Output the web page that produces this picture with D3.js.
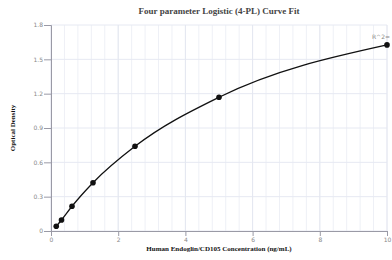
<!DOCTYPE html>
<html><head><meta charset="utf-8">
<script src="https://cdn.jsdelivr.net/npm/d3@7"></script>
<style>body{margin:0;background:#fff}svg{display:block}</style>
</head><body>
<svg id="c" width="392" height="260"></svg>
<script>
const concentrations = [0.156, 0.3125, 0.625, 1.25, 2.5, 5, 10];
const odValues = [0.041, 0.096, 0.216, 0.422, 0.74, 1.169, 1.626];
const xTicks = [0, 2, 4, 6, 8, 10];
const yTicks = [0, 0.3, 0.6, 0.9, 1.2, 1.5, 1.8];
const xMinor = d3.range(0, 10.001, 0.4);
const title = "Four parameter Logistic (4-PL) Curve Fit";
const xLabel = "Human Endoglin/CD105 Concentration (ng/mL)";
const yLabel = "Optical Density";
const r2Label = "R^2=";

const svg = d3.select("#c");
const m = {l:51, r:5, t:25, b:29};
const W = 392, H = 260;
const x = d3.scaleLinear().domain([0,10]).range([m.l, W-m.r]);
const y = d3.scaleLinear().domain([0,1.8]).range([H-m.b, m.t]);

// grid
svg.append("g").selectAll("line.v").data(xMinor).join("line")
  .attr("x1", d=>x(d)).attr("x2", d=>x(d)).attr("y1", y(0)).attr("y2", y(1.8))
  .attr("stroke", "#eef0f6").attr("stroke-width", 1);
svg.append("g").selectAll("line.h").data(yTicks).join("line")
  .attr("x1", x(0)).attr("x2", x(10)).attr("y1", d=>y(d)).attr("y2", d=>y(d))
  .attr("stroke", "#e6e9f2").attr("stroke-width", 1);
svg.append("g").selectAll("line.vm").data(xTicks).join("line")
  .attr("x1", d=>x(d)).attr("x2", d=>x(d)).attr("y1", y(0)).attr("y2", y(1.8))
  .attr("stroke", "#e4e7f0").attr("stroke-width", 1);

// axes
const xAxis = svg.append("g").attr("transform", `translate(0,${y(0)})`)
  .call(d3.axisBottom(x).tickValues(xTicks).tickSize(5).tickFormat(d3.format("d")));
const yAxis = svg.append("g").attr("transform", `translate(${x(0)},0)`)
  .call(d3.axisLeft(y).tickValues(yTicks).tickSize(7).tickFormat(d => d===0 ? "0" : d3.format(".1f")(d)));
[xAxis, yAxis].forEach(a => {
  a.selectAll("path").attr("stroke", "#9a9aa6");
  a.selectAll("line").attr("stroke", "#9a9aa6");
  a.selectAll("text").attr("fill", "#888").style("font-family", "DejaVu Sans, sans-serif").style("font-size", "6px");
});
yAxis.selectAll("text").attr("x", -8);
xAxis.selectAll("text").attr("y", 7);

// curve
const pts = concentrations.map((c,i)=>[c, odValues[i]]);
svg.append("path").datum(pts)
  .attr("d", d3.line().x(d=>x(d[0])).y(d=>y(d[1])).curve(d3.curveMonotoneX))
  .attr("fill", "none").attr("stroke", "#111").attr("stroke-width", 1.3);
svg.append("g").selectAll("circle").data(pts).join("circle")
  .attr("cx", d=>x(d[0])).attr("cy", d=>y(d[1])).attr("r", 2.8).attr("fill", "#111");

// texts
svg.append("text").attr("x", (x(0)+x(10))/2).attr("y", 14).attr("text-anchor","middle")
  .style("font-family","Liberation Serif, serif").style("font-weight","bold").style("font-size","9px")
  .attr("fill","#444").text(title);
svg.append("text").attr("x", (x(0)+x(10))/2).attr("y", 251).attr("text-anchor","middle")
  .style("font-family","Liberation Serif, serif").style("font-weight","bold").style("font-size","7px")
  .attr("fill","#111").text(xLabel);
svg.append("text").attr("transform", `translate(15,${(y(0)+y(1.8))/2}) rotate(-90)`).attr("text-anchor","middle")
  .style("font-family","Liberation Serif, serif").style("font-weight","bold").style("font-size","7px")
  .attr("fill","#111").text(yLabel);
svg.append("text").attr("x", 390).attr("y", 39).attr("text-anchor","end")
  .style("font-family","DejaVu Sans, sans-serif").style("font-size","6px")
  .attr("fill","#888").text(r2Label);
</script>
</body></html>
